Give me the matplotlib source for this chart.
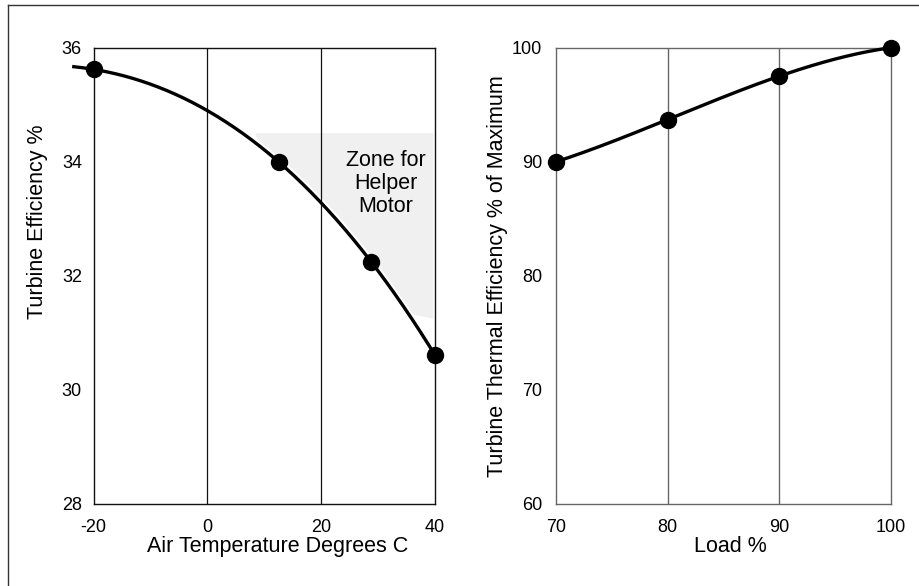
import numpy as np
import matplotlib
matplotlib.use("Agg")
import matplotlib.pyplot as plt
from matplotlib.lines import Line2D

plt.rcParams['font.family'] = ['Liberation Sans', 'DejaVu Sans']
plt.rcParams['axes.unicode_minus'] = False

# ---- data ----
temp_x = [-20, 12.5, 28.75, 40]
temp_eff = [35.62, 34.0, 32.25, 30.61]
temp_xticks = [-20, 0, 20, 40]
temp_yticks = [28, 30, 32, 34, 36]

load_x = [70, 80, 90, 100]
load_eff = [90.0, 93.7, 97.5, 100.0]
load_xticks = [70, 80, 90, 100]
load_yticks = [60, 70, 80, 90, 100]

zone_top = 34.5
zone_left = 8.4
zone_right = 39.7
zone_bottom = 31.25
zone_label = "Zone for\nHelper\nMotor"
zone_label_pos = (31.3, 33.62)

W, H = 919, 586
fig = plt.figure(figsize=(W / 100, H / 100), dpi=100)

# outer frame (top and left edges visible)
fig.add_artist(Line2D([8 / W, 1.0], [1 - 5 / H, 1 - 5 / H], color='#333333', lw=1.0, transform=fig.transFigure))
fig.add_artist(Line2D([8 / W, 8 / W], [0.0, 1 - 5 / H], color='#333333', lw=1.0, transform=fig.transFigure))

def smooth(xs, ys, x0, x1, n=300):
    c = np.polyfit(xs, ys, len(xs) - 1)
    xx = np.linspace(x0, x1, n)
    return xx, np.polyval(c, xx)

# ---- left panel ----
ax1 = fig.add_axes([93.7 / W, 1 - 504 / H, (435 - 93.7) / W, (504 - 47.7) / H])
ax1.set_xlim(-20, 40)
ax1.set_ylim(28, 36)
ax1.set_xticks(temp_xticks)
ax1.set_yticks(temp_yticks)
ax1.tick_params(length=0, labelsize=13)
ax1.tick_params(axis='x', pad=11)
ax1.tick_params(axis='y', pad=8.5)
for s in ax1.spines.values():
    s.set_color('#111111')
    s.set_linewidth(1.0)
for xv in temp_xticks[1:-1]:
    ax1.axvline(xv, color='#111111', lw=0.9, zorder=1)

# zone polygon: top edge, right edge, and lower boundary along the curve
cx, cy = smooth(temp_x, temp_eff, zone_left, zone_right)
mask = cy >= zone_bottom
bx = cx[mask][::-1] + 0.35
by = cy[mask][::-1] + 0.06
px = np.concatenate([[zone_left, zone_right, zone_right], bx])
py = np.concatenate([[zone_top, zone_top, zone_bottom], np.minimum(by, zone_top)])
ax1.fill(px, py, color='#f0f0f0', lw=0, zorder=0.5)

lx, ly = smooth(temp_x, temp_eff, -23.5, 40)
ax1.plot(lx, ly, color='black', lw=2.4, clip_on=False, zorder=3)
ax1.plot(temp_x, temp_eff, 'o', color='black', ms=11.5, clip_on=False, zorder=4)
ax1.text(zone_label_pos[0], zone_label_pos[1], zone_label, ha='center', va='center',
         fontsize=15.5, linespacing=1.15, zorder=5)

ax1.set_xlabel("Air Temperature Degrees C", fontsize=15.5)
ax1.set_ylabel("Turbine Efficiency %", fontsize=15.5)
ax1.xaxis.set_label_coords(0.54, -0.094)
ax1.yaxis.set_label_coords(-0.166, 0.618)
ax1.xaxis.label.set_va('center')
ax1.yaxis.label.set_va('center')

# ---- right panel ----
ax2 = fig.add_axes([556 / W, 1 - 504 / H, (890.7 - 556) / W, (504 - 47.7) / H])
ax2.set_xlim(70, 100)
ax2.set_ylim(60, 100)
ax2.set_xticks(load_xticks)
ax2.set_yticks(load_yticks)
ax2.tick_params(length=0, labelsize=13)
ax2.tick_params(axis='x', pad=11)
ax2.tick_params(axis='y', pad=10)
for s in ax2.spines.values():
    s.set_color('#666666')
    s.set_linewidth(1.0)
for xv in load_xticks[1:-1]:
    ax2.axvline(xv, color='#666666', lw=1.0, zorder=1)

rx, ry = smooth(load_x, load_eff, 70, 100)
ax2.plot(rx, ry, color='black', lw=2.4, clip_on=False, zorder=3)
ax2.plot(load_x, load_eff, 'o', color='black', ms=11.5, clip_on=False, zorder=4)

ax2.set_xlabel("Load %", fontsize=15.5)
ax2.set_ylabel("Turbine Thermal Efficiency % of Maximum", fontsize=15.5)
ax2.xaxis.set_label_coords(0.52, -0.094)
ax2.yaxis.set_label_coords(-0.174, 0.5)
ax2.xaxis.label.set_va('center')
ax2.yaxis.label.set_va('center')

fig.savefig("out.png", dpi=100)
